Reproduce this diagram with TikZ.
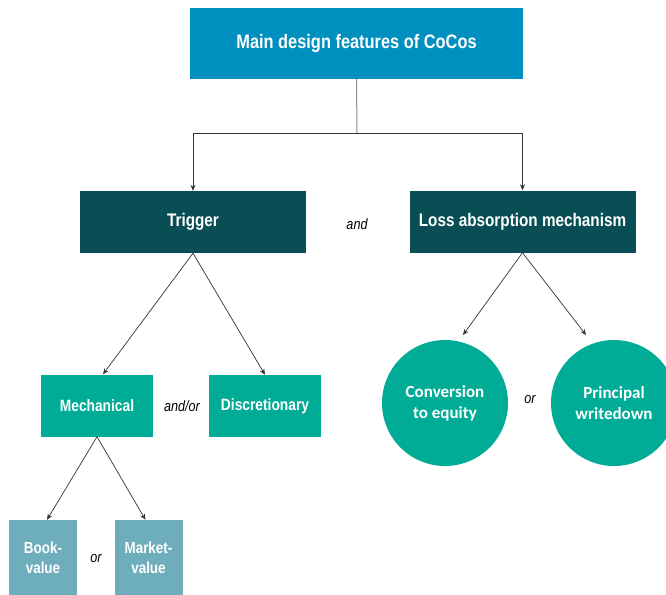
\documentclass[tikz,border=0pt]{standalone}
\usepackage{fontspec}
\setmainfont{Liberation Sans}[FakeStretch=0.84]
\newfontfamily\calib{Carlito}
\usetikzlibrary{arrows.meta}
\definecolor{topblue}{RGB}{0,144,192}
\definecolor{darkteal}{RGB}{9,78,85}
\definecolor{midteal}{RGB}{0,172,150}
\definecolor{lightteal}{RGB}{110,174,188}
\definecolor{stem}{RGB}{140,140,140}
\tikzset{
  x=1pt, y=-1pt,
  boxbase/.style={text=white, font=\bfseries, align=center, inner sep=0pt},
  topbox/.style={boxbase, fill=topblue, minimum width=333, minimum height=71, font=\fontsize{19.5}{22}\selectfont\bfseries},
  lvlbox/.style={boxbase, fill=darkteal, minimum width=226, minimum height=62, font=\fontsize{18.2}{21}\selectfont\bfseries},
  subbox/.style={boxbase, fill=midteal, minimum width=112, minimum height=62, font=\fontsize{16.4}{19}\selectfont\bfseries},
  leafbox/.style={boxbase, fill=lightteal, minimum width=68, minimum height=76, font=\fontsize{16}{20}\selectfont\bfseries},
  circ/.style={circle, fill=midteal, text=white, minimum size=126, inner sep=0pt, align=center, font=\calib\fontsize{17}{21}\selectfont\bfseries},
  conn/.style={draw=black!80, line width=0.7pt, -{Stealth[length=6pt,width=5pt]}},
  lbl/.style={font=\itshape\fontsize{15}{17}\selectfont, text=black}
}
\begin{document}
\begin{tikzpicture}
\useasboundingbox (0,0) rectangle (666,594);
\node[topbox] (main) at (356.5,43.5) {Main design features of CoCos};
\node[lvlbox] (trig) at (193,222) {Trigger};
\node[lvlbox] (loss) at (522.5,221.5) {Loss absorption mechanism};
\node[lbl] (and) at (357,224) {and};
\node[subbox] (mech) at (97,405.5) {Mechanical};
\node[subbox] (disc) at (265,406) {Discretionary};
\node[lbl] (andor) at (182,406) {and/or};
\node[leafbox] (book) at (43,558) {Book-\\value};
\node[leafbox] (market) at (148.5,558) {Market-\\value};
\node[lbl] (or1) at (96,559) {or};
\node[circ] (conv) at (445,403) {Conversion\\to equity};
\node[circ] (princ) at (614,403) {Principal\\writedown};
\node[lbl] (or2) at (530,400) {or};
\coordinate (split) at (357,133);
\draw[draw=stem, line width=1pt] (main.south) -- (split);
\draw[conn] (split) -| (trig.north);
\draw[conn] (split) -| (loss.north);
\draw[conn] (trig.south) -- ([xshift=6pt]mech.north);
\draw[conn] (trig.south) -- (disc.north);
\draw[conn] (mech.south) -- ([xshift=4pt]book.north);
\draw[conn] (mech.south) -- ([xshift=-3pt]market.north);
\draw[conn] (loss.south) -- (463,335);
\draw[conn] (loss.south) -- (586,335);
\end{tikzpicture}
\end{document}
